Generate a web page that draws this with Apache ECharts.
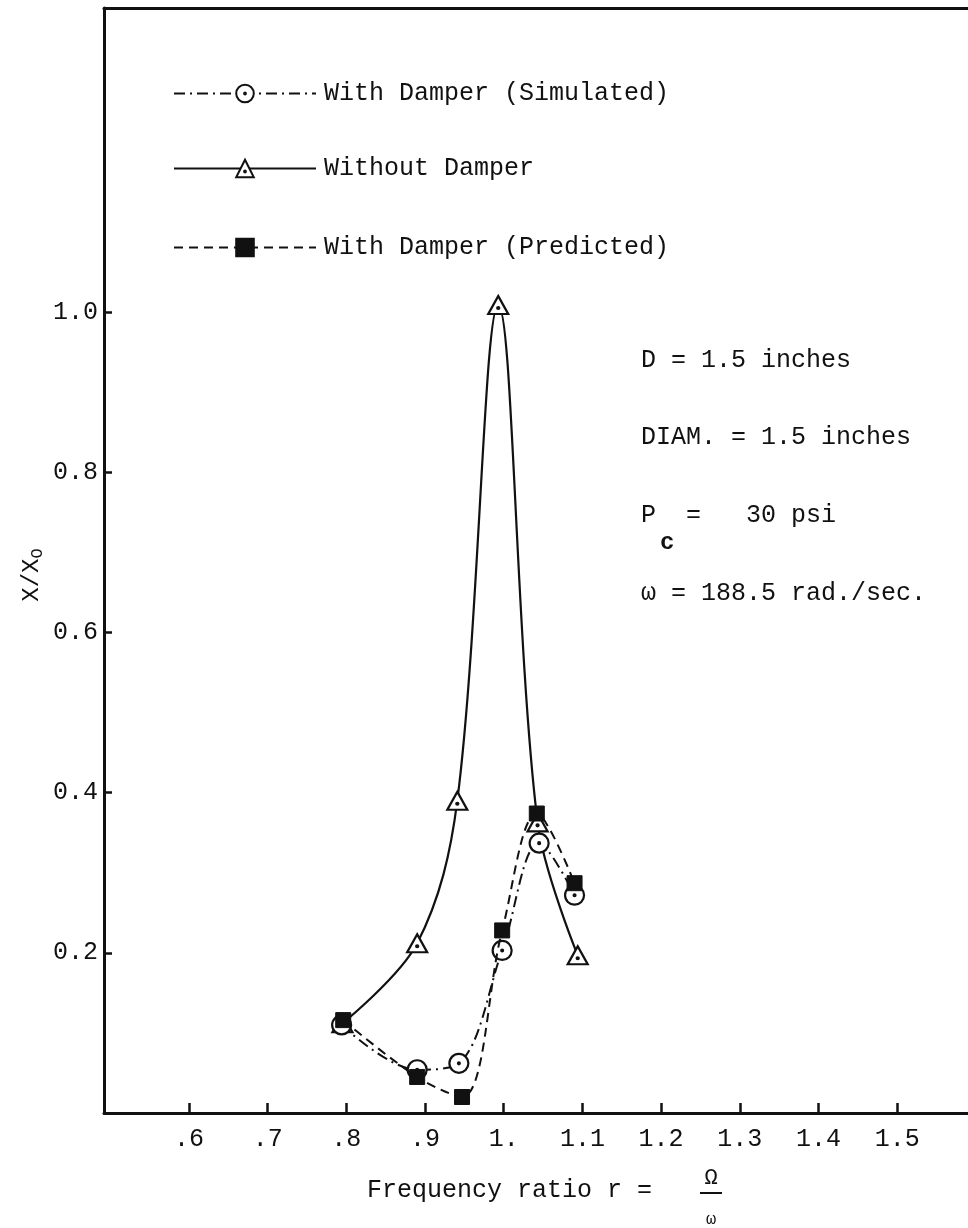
<!DOCTYPE html>
<html>
<head>
<meta charset="utf-8">
<script src="https://cdn.jsdelivr.net/npm/echarts@6/dist/echarts.min.js"></script>
<style>
html,body{margin:0;padding:0;background:#fff;}
#chart{width:968px;height:1228px;}
</style>
</head>
<body>
<div id="chart"></div>
<script>
// ---- data ----
const xTickValues = [0.6, 0.7, 0.8, 0.9, 1.0, 1.1, 1.2, 1.3, 1.4, 1.5];
const xTickLabels = ['.6', '.7', '.8', '.9', '1.', '1.1', '1.2', '1.3', '1.4', '1.5'];
const yTickValues = [0.2, 0.4, 0.6, 0.8, 1.0];
const yTickLabels = ['0.2', '0.4', '0.6', '0.8', '1.0'];

const seriesNames = ['With Damper (Simulated)', 'Without Damper', 'With Damper (Predicted)'];

const rSimulated = [0.794, 0.89, 0.943, 0.998, 1.045, 1.09];
const simulated  = [0.110, 0.054, 0.062, 0.203, 0.337, 0.272];

const rWithout = [0.795, 0.89, 0.941, 0.993, 1.043, 1.094];
const withoutDamper = [0.112, 0.212, 0.390, 1.009, 0.363, 0.197];

const rPredicted = [0.796, 0.89, 0.947, 0.998, 1.042, 1.09];
const predicted  = [0.116, 0.045, 0.020, 0.228, 0.374, 0.287];

const notes = ['D = 1.5 inches', 'DIAM. = 1.5 inches', 'P  =   30 psi', '\u03c9 = 188.5 rad./sec.'];

// ---- chart ----
const FONT = '"Liberation Mono", "DejaVu Sans Mono", monospace';
const INK = '#111';
const pair = (xs, ys) => xs.map((x, i) => [x, ys[i]]);

const circleSym = 'path://M0,-10A10,10,0,1,1,0,10A10,10,0,1,1,0,-10ZM0,-1A1,1,0,1,0,0,1A1,1,0,1,0,0,-1Z';
const triSym = 'path://M0,-11L10,7L-10,7ZM0,0A1,1,0,1,0,0,2A1,1,0,1,0,0,0Z';

const chart = echarts.init(document.getElementById('chart'), null, {renderer: 'canvas'});

const legendBase = {
  orient: 'horizontal', left: 173, padding: 0, itemWidth: 142, itemHeight: 22,
  textStyle: {fontFamily: FONT, fontSize: 25, color: INK, padding: [0, 0, 0, 3]}, selectedMode: false
};

chart.setOption({
  animation: false,
  backgroundColor: '#fff',
  grid: {left: 104, right: 0, top: 8, bottom: 115},
  legend: [
    Object.assign({}, legendBase, {top: 81, data: [seriesNames[0]]}),
    Object.assign({}, legendBase, {top: 156, data: [seriesNames[1]]}),
    Object.assign({}, legendBase, {top: 235, data: [seriesNames[2]]})
  ],
  xAxis: [{
    type: 'value', min: 0.492, max: 1.59,
    axisLine: {show: true, onZero: false, lineStyle: {color: INK, width: 3}},
    splitLine: {show: false},
    axisTick: {show: true, inside: true, length: 10, customValues: xTickValues, lineStyle: {color: INK, width: 2.5}},
    axisLabel: {
      customValues: xTickValues, margin: 14,
      fontFamily: FONT, fontSize: 25, color: INK,
      formatter: v => { const i = xTickValues.findIndex(t => Math.abs(t - v) < 1e-6); return i >= 0 ? xTickLabels[i] : ''; }
    }
  }, {
    type: 'value', position: 'top', min: 0.492, max: 1.59,
    axisLine: {show: true, onZero: false, lineStyle: {color: INK, width: 3}},
    axisTick: {show: false}, axisLabel: {show: false}, splitLine: {show: false}
  }],
  yAxis: {
    type: 'value', min: 0, max: 1.38,
    axisLine: {show: true, onZero: false, lineStyle: {color: INK, width: 3}},
    splitLine: {show: false},
    axisTick: {show: true, inside: true, length: 8, customValues: yTickValues, lineStyle: {color: INK, width: 2.5}},
    axisLabel: {
      customValues: yTickValues, margin: 6,
      fontFamily: FONT, fontSize: 25, color: INK,
      formatter: v => { const i = yTickValues.findIndex(t => Math.abs(t - v) < 1e-6); return i >= 0 ? yTickLabels[i] : ''; }
    }
  },
  series: [
    {
      name: seriesNames[0], type: 'line', smooth: 0.35,
      data: pair(rSimulated, simulated),
      symbol: circleSym, symbolSize: 19,
      itemStyle: {color: '#fff', borderColor: INK, borderWidth: 2.2},
      lineStyle: {color: INK, width: 2, type: [11, 5, 2, 5]},
      z: 3
    },
    {
      name: seriesNames[1], type: 'line', smooth: 0.35,
      data: pair(rWithout, withoutDamper),
      symbol: triSym, symbolSize: [20, 18],
      itemStyle: {color: '#fff', borderColor: INK, borderWidth: 2.2},
      lineStyle: {color: INK, width: 2.2, type: 'solid'},
      z: 2
    },
    {
      name: seriesNames[2], type: 'line', smooth: 0.35,
      data: pair(rPredicted, predicted),
      symbol: 'rect', symbolSize: 15,
      itemStyle: {color: INK, borderColor: INK, borderWidth: 1},
      lineStyle: {color: INK, width: 2, type: [9, 6]},
      z: 4
    }
  ],
  graphic: [
    {type: 'text', x: 641, y: 360, style: {text: notes[0], font: '25px ' + FONT, fill: INK, verticalAlign: 'middle'}},
    {type: 'text', x: 641, y: 437, style: {text: notes[1], font: '25px ' + FONT, fill: INK, verticalAlign: 'middle'}},
    {type: 'text', x: 641, y: 515, style: {text: notes[2], font: '25px ' + FONT, fill: INK, verticalAlign: 'middle'}},
    {type: 'text', x: 660, y: 543, style: {text: 'c', font: 'bold 24px ' + FONT, fill: INK, verticalAlign: 'middle'}},
    {type: 'text', x: 641, y: 593, style: {text: notes[3], font: '25px ' + FONT, fill: INK, verticalAlign: 'middle'}},
    {type: 'text', x: 367, y: 1190, style: {text: 'Frequency ratio r = ', font: '25px ' + FONT, fill: INK, verticalAlign: 'middle'}},
    {type: 'text', x: 711, y: 1178, style: {text: '\u03a9', font: '22px ' + FONT, fill: INK, align: 'center', verticalAlign: 'middle'}},
    {type: 'line', shape: {x1: 700, y1: 1193, x2: 722, y2: 1193}, style: {stroke: INK, lineWidth: 2}},
    {type: 'text', x: 711, y: 1219, style: {text: '\u03c9', font: '17px ' + FONT, fill: INK, align: 'center', verticalAlign: 'middle'}},
    {type: 'text', x: 32, y: 575, rotation: Math.PI / 2,
      style: {text: '{m|X/X}{s|O}', align: 'center', verticalAlign: 'middle',
        rich: {m: {font: '24px ' + FONT, fill: INK}, s: {font: '17px ' + FONT, fill: INK, padding: [10, 0, 0, 0]}}}}
  ]
});
</script>
</body>
</html>
